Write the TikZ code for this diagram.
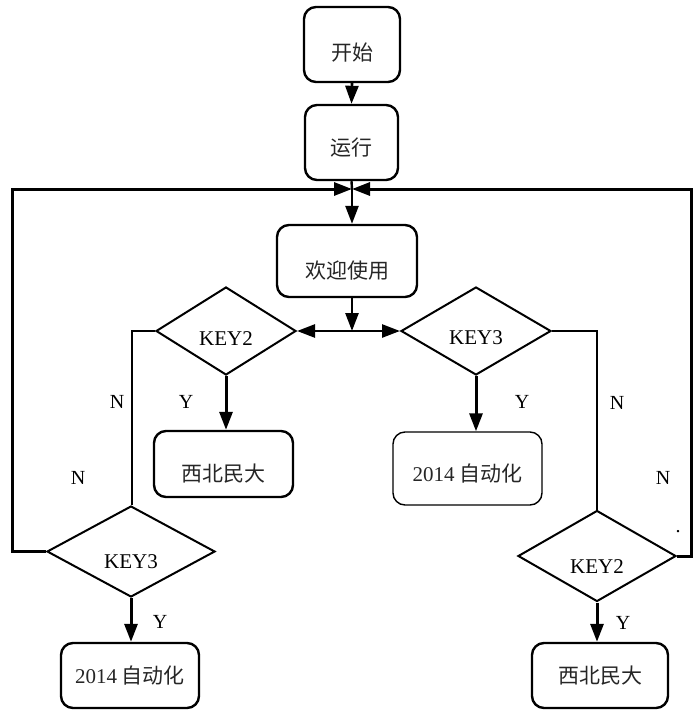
\documentclass[tikz,border=0pt]{standalone}
\usepackage{fontspec}
\setmainfont{Liberation Serif}
\newfontfamily\cjk{Noto Sans CJK SC}
\usetikzlibrary{shapes.geometric,arrows.meta}
\begin{document}
\begin{tikzpicture}[x=1pt,y=-1pt,
  box/.style={draw,rounded corners=12pt,line width=2.4pt,inner sep=0pt,
    font=\cjk\fontsize{21}{25}\selectfont,text=black!85,text depth=0pt},
  thinbox/.style={box,line width=1.4pt},
  dia/.style={draw,diamond,line width=2pt,inner sep=0pt,
    font=\fontsize{21}{24}\selectfont,text depth=0pt},
  lab/.style={font=\fontsize{20}{23}\selectfont,inner sep=0pt},
  ln/.style={line width=2.4pt},
  arr/.style={line width=2.6pt,-{Triangle[length=18pt,width=13pt]}},
]
\useasboundingbox (0,0) rectangle (693,710);
% boxes
\node[box,minimum width=96pt,minimum height=75pt,text height=31pt] (start) at (352,44.5) {开始};
\node[box,minimum width=93pt,minimum height=75pt,text height=26pt] (run) at (351.5,142.5) {运行};
\node[box,minimum width=140pt,minimum height=72pt,text height=34pt] (welcome) at (347,261) {欢迎使用};
\node[box,minimum width=139pt,minimum height=66pt,text height=34pt] (xb1) at (223.5,464) {西北民大};
\node[thinbox,minimum width=149pt,minimum height=73pt,text height=25pt] (zd1) at (467.5,468.5) {{\rmfamily 2014} 自动化};
\node[box,minimum width=138pt,minimum height=65pt,text height=16pt] (zd2) at (130,675.5) {{\rmfamily 2014} 自动化};
\node[box,minimum width=136pt,minimum height=65pt,text height=16pt] (xb2) at (600,675.5) {西北民大};
% diamonds
\node[dia,minimum width=140pt,minimum height=88pt,text height=29.6pt] (k2a) at (226,331) {KEY2};
\node[dia,minimum width=150pt,minimum height=88pt,text height=27.6pt] (k3a) at (476,331) {KEY3};
\node[dia,minimum width=168pt,minimum height=91pt,text height=33.6pt] (k3b) at (131,551.5) {KEY3};
\node[dia,minimum width=158pt,minimum height=91pt,text height=35.6pt] (k2b) at (597,556) {KEY2};
% junctions and corners
\coordinate (j1) at (352,189);
\coordinate (j2) at (352,331);
\coordinate (L1) at (12,189);
\coordinate (L2) at (12,551.5);
\coordinate (R1) at (691.5,189);
\coordinate (R2) at (691.5,556);
\coordinate (cL) at (132,331);
\coordinate (cR) at (597,331);
% connectors
\draw[arr] (start.south) -- (run.north);
\draw[ln] (run.south) -- (j1);
\draw[arr] (j1) -- (j1 |- welcome.north);
\draw[ln,line width=3pt] (k3b.west) -- (L2) -- (L1) -- ++(300,0);
\draw[arr,line width=3pt] (L1) -- (j1);
\draw[ln,line width=3pt] (k2b.east) -- (R2) -- (R1) -- ++(-300,0);
\draw[arr,line width=3pt] (R1) -- (j1);
\draw[arr] (welcome.south -| j2) -- (j2);
\draw[arr] (j2) -- (k2a.east);
\draw[arr] (j2) -- (k3a.west);
\draw[ln,line width=2pt] (k2a.west) -- (cL) -- (cL |- k3b.north);
\draw[ln,line width=2pt] (k3a.east) -- (cR) -- (k2b.north);
\draw[arr,line width=3pt] (k2a.south) -- (k2a.south |- xb1.north);
\draw[arr,line width=3pt] (k3a.south) -- (k3a.south |- zd1.north);
\draw[arr,line width=3pt] (k3b.south) -- (k3b.south |- zd2.north);
\draw[arr,line width=3pt] (k2b.south) -- (k2b.south |- xb2.north);
% labels
\node[lab] (n1) at (117,402) {N};
\node[lab] (n2) at (78,478) {N};
\node[lab] (y1) at (186,402) {Y};
\node[lab] (y2) at (522,402) {Y};
\node[lab] (n3) at (617,403) {N};
\node[lab] (n4) at (663,478) {N};
\node[lab] (dot) at (678,532) {.};
\node[lab] (y3) at (160,622) {Y};
\node[lab] (y4) at (623,623) {Y};
\end{tikzpicture}
\end{document}
